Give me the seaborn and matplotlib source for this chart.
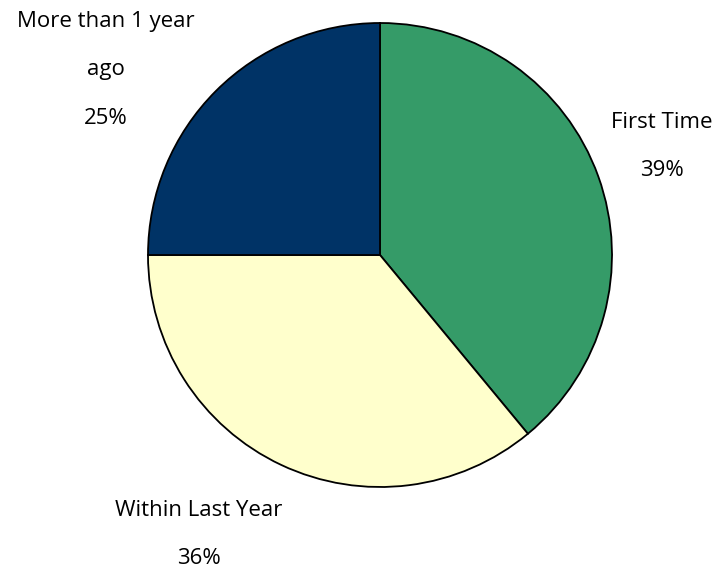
import matplotlib
matplotlib.use("Agg")
import matplotlib.pyplot as plt
import seaborn as sns

# datos del gráfico
categorias = ["First Time", "Within Last Year", "More than 1 year\nago"]
porcentajes = [39, 36, 25]
colores = ["#359B68", "#FFFFCC", "#003366"]

sns.set_theme(style="white")
plt.rcParams['font.family'] = ['Open Sans', 'DejaVu Sans']

fig = plt.figure(figsize=(7.22, 5.75), dpi=100)
# ejes colocados para que el pastel quede centrado en (380, 255) px con radio 232
ax = fig.add_axes([148 / 722, 88 / 575, 464 / 722, 464 / 575])

ax.pie(porcentajes, colors=colores, startangle=90, counterclock=False,
       radius=1, wedgeprops=dict(edgecolor="black", linewidth=1.3))
ax.set_xlim(-1, 1)
ax.set_ylim(-1, 1)
ax.axis("off")

# posiciones de las etiquetas (en píxeles de la imagen original)
pos_etiquetas = [(662, 122), (199, 510), (106, 22)]
paso = 48


def a_datos(px, py):
    return (px - 380) / 232, (255 - py) / 232


for cat, pct, (px, py) in zip(categorias, porcentajes, pos_etiquetas):
    lineas = cat.split("\n") + [f"{pct}%"]
    for i, linea in enumerate(lineas):
        x, y = a_datos(px, py + i * paso)
        ax.text(x, y, linea, ha="center", va="center", fontsize=16,
                color="black", clip_on=False)

fig.savefig("out.png", dpi=100)
